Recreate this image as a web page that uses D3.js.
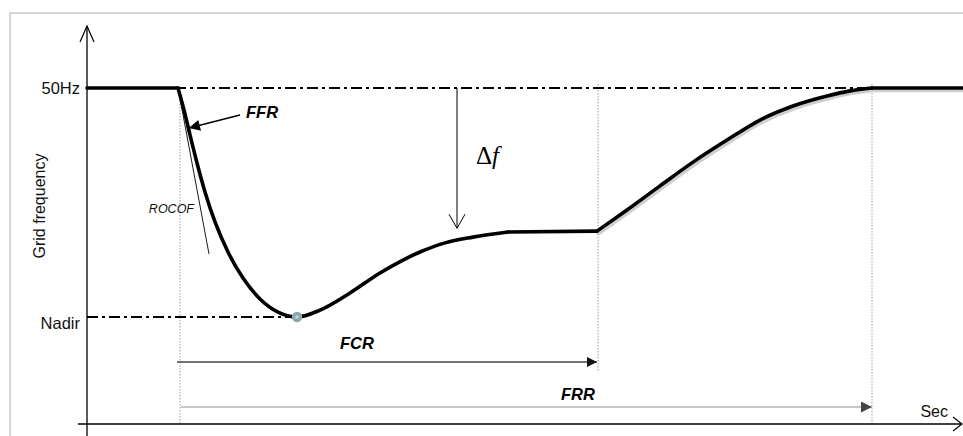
<!DOCTYPE html>
<html>
<head>
<meta charset="utf-8">
<script src="https://cdn.jsdelivr.net/npm/d3@7/dist/d3.min.js"></script>
<style>
  html, body { margin: 0; padding: 0; background: #fff; }
  svg { display: block; }
</style>
</head>
<body>
<svg id="chart" width="963" height="436"></svg>
<script>
// ---------------- DATA ----------------
// time in seconds (arbitrary), frequency in Hz
const curveTime = [0, 9.1, 9.7, 10.3, 11.0, 11.8, 12.8, 14.1, 15.6, 17.3, 19.1, 21.0,
  23.3, 26.3, 29.3, 31.6, 33.3, 35.8, 38.6, 42.1, 51.0,
  54.0, 57.3, 60.6, 64.0, 67.3, 70.6, 74.0, 76.3, 78.5, 87.6];
const curveFreq = [50.0, 50.0, 49.923, 49.836, 49.738, 49.637, 49.532, 49.427, 49.336, 49.263, 49.217, 49.2,
  49.224, 49.284, 49.354, 49.399, 49.427, 49.459, 49.479, 49.497, 49.5,
  49.574, 49.658, 49.741, 49.818, 49.888, 49.937, 49.972, 49.99, 50.0, 50.0];
// times where the curve has a sharp corner (segments between them are smoothed)
const cornerTimes = [0, 9.1, 42.1, 51.0, 78.5, 87.6];

const nominalFreq = 50.0;
const nadirFreq = 49.2;
const nadirTime = 21.0;
const eventTime = 9.1;
const fcrEnd = 51.0;
const frrEnd = 78.5;
const yTickLabels = ["50Hz", "Nadir"];
const yTickValues = [nominalFreq, nadirFreq];
const phaseNames = ["FCR", "FRR"];
const phaseStart = [9.0, 9.4];
const phaseEnd = [fcrEnd, frrEnd];
const rocofTime = [9.1, 12.2];
const rocofFreq = [50.0, 49.42];
const deltaFTime = 37.0;
const deltaFBottom = 49.51;
const ffrArrowFrom = [15.3, 49.906];
const ffrArrowTo = [10.2, 49.86];

// ---------------- LAYOUT ----------------
const svg = d3.select("#chart");
const x = d3.scaleLinear().domain([0, 88]).range([87, 967]);
const y = d3.scaleLinear().domain([nadirFreq, nominalFreq]).range([317, 88]);
const axisY = 424;   // pixel row of time axis
const axisTop = 26;

// defs: arrowheads
const defs = svg.append("defs");
defs.append("marker").attr("id", "triDark").attr("viewBox", "0 0 10 10")
  .attr("refX", 10).attr("refY", 5).attr("markerWidth", 10).attr("markerHeight", 10)
  .attr("markerUnits", "userSpaceOnUse").attr("orient", "auto")
  .append("path").attr("d", "M0,0 L10,5 L0,10 Z").attr("fill", "#111");
defs.append("marker").attr("id", "triGrey").attr("viewBox", "0 0 10 10")
  .attr("refX", 10).attr("refY", 5).attr("markerWidth", 11).attr("markerHeight", 11)
  .attr("markerUnits", "userSpaceOnUse").attr("orient", "auto")
  .append("path").attr("d", "M0,0 L10,5 L0,10 Z").attr("fill", "#444");
defs.append("marker").attr("id", "ffrHead").attr("viewBox", "0 0 10 10")
  .attr("refX", 10).attr("refY", 5).attr("markerWidth", 13).attr("markerHeight", 11)
  .attr("markerUnits", "userSpaceOnUse").attr("orient", "auto")
  .append("path").attr("d", "M0,0 L10,5 L0,10 Z").attr("fill", "#000");

// frame
svg.append("path").attr("d", "M10,436 L10,13 L963,13")
  .attr("fill", "none").attr("stroke", "#c8c8c8").attr("stroke-width", 1.5);

// vertical dotted guides
[eventTime + 0.2, fcrEnd + 0.1, frrEnd].forEach((t, i) => {
  const yb = i === 1 ? 372 : axisY;
  svg.append("line").attr("x1", x(t)).attr("x2", x(t))
    .attr("y1", i === 0 ? 95 : 84).attr("y2", yb)
    .attr("stroke", "#9a9a9a").attr("stroke-width", 1).attr("stroke-dasharray", "1.5,1.5");
});

// dash-dot reference lines
svg.append("line").attr("x1", x(0)).attr("x2", x(frrEnd)).attr("y1", y(nominalFreq)).attr("y2", y(nominalFreq))
  .attr("stroke", "#000").attr("stroke-width", 2).attr("stroke-dasharray", "11,4,3,4");
svg.append("line").attr("x1", x(0)).attr("x2", x(nadirTime)).attr("y1", y(nadirFreq)).attr("y2", y(nadirFreq))
  .attr("stroke", "#000").attr("stroke-width", 2).attr("stroke-dasharray", "11,4,3,4");

// axes
svg.append("line").attr("x1", 87).attr("x2", 87).attr("y1", axisTop).attr("y2", 436)
  .attr("stroke", "#000").attr("stroke-width", 1.3);
svg.append("path").attr("d", `M80,42 L87,${axisTop} L94,42`).attr("fill", "none")
  .attr("stroke", "#000").attr("stroke-width", 1.2);
svg.append("line").attr("x1", 78).attr("x2", 962).attr("y1", axisY).attr("y2", axisY)
  .attr("stroke", "#000").attr("stroke-width", 1.3);
svg.append("path").attr("d", `M953,417 L962,${axisY} L953,431`).attr("fill", "none")
  .attr("stroke", "#000").attr("stroke-width", 1.2);

// y tick labels
svg.selectAll("text.ytick").data(yTickValues).enter().append("text")
  .attr("class", "ytick")
  .attr("x", 80).attr("y", (d, i) => y(d) + (i === 0 ? 6 : 12))
  .attr("text-anchor", "end")
  .attr("font-family", "Liberation Sans, Arial, sans-serif").attr("font-size", 16.5)
  .attr("fill", "#111").text((d, i) => yTickLabels[i]);

// axis titles
svg.append("text").attr("transform", "translate(45,206) rotate(-90)")
  .attr("text-anchor", "middle").attr("font-family", "Liberation Sans, Arial, sans-serif")
  .attr("font-size", 16).attr("fill", "#111").text("Grid frequency");
svg.append("text").attr("x", 948).attr("y", 417).attr("text-anchor", "end")
  .attr("font-family", "Liberation Sans, Arial, sans-serif").attr("font-size", 16)
  .attr("fill", "#111").text("Sec");

// ROCOF tangent
svg.append("line").attr("x1", x(rocofTime[0])).attr("y1", y(rocofFreq[0]))
  .attr("x2", x(rocofTime[1])).attr("y2", y(rocofFreq[1]))
  .attr("stroke", "#000").attr("stroke-width", 0.9);
svg.append("text").attr("x", 194).attr("y", 213).attr("text-anchor", "end")
  .attr("font-family", "Liberation Sans, Arial, sans-serif").attr("font-size", 12.5)
  .attr("font-style", "italic").attr("fill", "#111").text("ROCOF");

// frequency curve, drawn piecewise so corners stay sharp
const pts = curveTime.map((t, i) => [t, curveFreq[i]]);
const line = d3.line().x(d => x(d[0])).y(d => y(d[1])).curve(d3.curveMonotoneX);
const segments = d3.pairs(cornerTimes).map(([a, b]) => pts.filter(d => d[0] >= a && d[0] <= b));
// soft shadow for recovery part
segments.filter(s => s[0][0] >= fcrEnd).forEach(s => {
  svg.append("path").datum(s)
    .attr("d", line).attr("transform", "translate(1.5,2)")
    .attr("fill", "none").attr("stroke", "#cfcfcf").attr("stroke-width", 4.5)
    .attr("stroke-linecap", "round");
});
segments.forEach(s => {
  svg.append("path").datum(s).attr("d", line)
    .attr("fill", "none").attr("stroke", "#000").attr("stroke-width", 3.6)
    .attr("stroke-linejoin", "round").attr("stroke-linecap", "round");
});

// nadir marker
svg.append("circle").attr("cx", x(nadirTime)).attr("cy", y(nadirFreq)).attr("r", 5.2)
  .attr("fill", "#8ea7a9");
svg.append("circle").attr("cx", x(nadirTime)).attr("cy", y(nadirFreq)).attr("r", 1.8)
  .attr("fill", "#c4d6d7");

// FFR arrow + label
svg.append("line").attr("x1", x(ffrArrowFrom[0])).attr("y1", y(ffrArrowFrom[1]))
  .attr("x2", x(ffrArrowTo[0])).attr("y2", y(ffrArrowTo[1]))
  .attr("stroke", "#000").attr("stroke-width", 1.5).attr("marker-end", "url(#ffrHead)");
svg.append("text").attr("x", 246).attr("y", 118)
  .attr("font-family", "Liberation Sans, Arial, sans-serif").attr("font-size", 16.5)
  .attr("font-weight", "bold").attr("font-style", "italic").attr("fill", "#000").text("FFR");

// delta f arrow
svg.append("line").attr("x1", x(deltaFTime)).attr("x2", x(deltaFTime))
  .attr("y1", y(nominalFreq)).attr("y2", y(deltaFBottom))
  .attr("stroke", "#000").attr("stroke-width", 1);
svg.append("path")
  .attr("d", `M${x(deltaFTime) - 8},${y(deltaFBottom) - 14} L${x(deltaFTime)},${y(deltaFBottom)} L${x(deltaFTime) + 8},${y(deltaFBottom) - 14}`)
  .attr("fill", "none").attr("stroke", "#000").attr("stroke-width", 1);
const df = svg.append("text").attr("x", 476).attr("y", 164)
  .attr("font-family", "Liberation Serif, Times New Roman, serif").attr("font-size", 25).attr("fill", "#000");
df.append("tspan").attr("font-style", "normal").text("Δ");
df.append("tspan").attr("font-style", "italic").text("f");

// phase arrows (FCR, FRR)
const phaseRows = [362, 407];
const phaseStroke = ["#444", "#b5b5b5"];
const phaseMarker = ["url(#triDark)", "url(#triGrey)"];
const phaseLabelX = [357, 578];
const phaseLabelY = [349, 400];
phaseNames.forEach((name, i) => {
  svg.append("line").attr("x1", x(phaseStart[i])).attr("x2", x(phaseEnd[i]))
    .attr("y1", phaseRows[i]).attr("y2", phaseRows[i])
    .attr("stroke", phaseStroke[i]).attr("stroke-width", i === 0 ? 1.6 : 1.4)
    .attr("marker-end", phaseMarker[i]);
  svg.append("text").attr("x", phaseLabelX[i]).attr("y", phaseLabelY[i]).attr("text-anchor", "middle")
    .attr("font-family", "Liberation Sans, Arial, sans-serif").attr("font-size", 16.5)
    .attr("font-weight", "bold").attr("font-style", "italic").attr("fill", "#000").text(name);
});
</script>
</body>
</html>
